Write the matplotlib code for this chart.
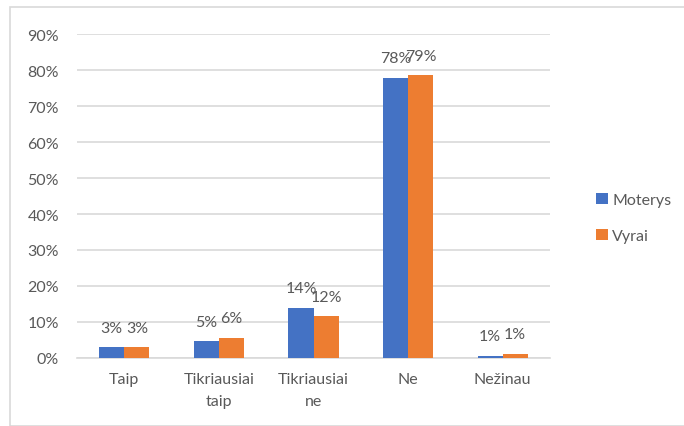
import matplotlib
matplotlib.use("Agg")
import matplotlib.pyplot as plt
from matplotlib.patches import Rectangle
import numpy as np

categories = ["Taip", "Tikriausiai\ntaip", "Tikriausiai\nne", "Ne", "Nežinau"]
moterys = [3.0, 4.7, 13.9, 77.8, 0.6]
vyrai = [3.0, 5.6, 11.6, 78.6, 1.2]
moterys_labels = ["3%", "5%", "14%", "78%", "1%"]
vyrai_labels = ["3%", "6%", "12%", "79%", "1%"]
series_names = ["Moterys", "Vyrai"]
yticks = [0, 10, 20, 30, 40, 50, 60, 70, 80, 90]

blue = "#4472C4"
orange = "#ED7D31"
txt = "#595959"
grid = "#D9D9D9"
fs = 11.5

plt.rcParams['font.family'] = ['Lato', 'DejaVu Sans']

fig = plt.figure(figsize=(6.84, 4.27), dpi=100)
fig.patches.append(Rectangle((10/684, 0), 1.0, 1 - 8/427, transform=fig.transFigure,
                             fill=False, edgecolor="#D9D9D9", linewidth=1.2))
ax = fig.add_axes([77/684, 1 - 359/427, (550-77)/684, (359-35)/427])

x = np.arange(len(categories))
w = 0.265
b1 = ax.bar(x - w/2, moterys, w, color=blue, label=series_names[0], zorder=3)
b2 = ax.bar(x + w/2, vyrai, w, color=orange, label=series_names[1], zorder=3)

for rect, lab in zip(b1, moterys_labels):
    ax.annotate(lab, (rect.get_x() + rect.get_width()/2, rect.get_height()),
                xytext=(0, 9), textcoords="offset points", ha="center", va="bottom",
                fontsize=fs, color=txt)
for rect, lab in zip(b2, vyrai_labels):
    ax.annotate(lab, (rect.get_x() + rect.get_width()/2, rect.get_height()),
                xytext=(0, 9), textcoords="offset points", ha="center", va="bottom",
                fontsize=fs, color=txt)

ax.set_ylim(0, 90)
ax.set_xlim(-0.5, 4.5)
ax.set_yticks(yticks)
ax.set_yticklabels([f"{v}%" for v in yticks], fontsize=fs, color=txt)
ax.set_xticks(x)
ax.set_xticklabels(categories, fontsize=fs, color=txt, linespacing=1.75)
ax.tick_params(axis="both", length=0)
ax.tick_params(axis="x", pad=10)
ax.tick_params(axis="y", pad=13)
ax.yaxis.grid(True, color=grid, linewidth=1.2, zorder=0)
ax.set_axisbelow(True)
for s in ["top", "right", "left"]:
    ax.spines[s].set_visible(False)
ax.spines["bottom"].set_color(grid)
ax.spines["bottom"].set_linewidth(1.2)

fig.legend(handles=[b1, b2], labels=series_names, loc="center left",
           bbox_to_anchor=(582/684, 1 - 219/427), frameon=False, fontsize=fs,
           labelcolor=txt, handlelength=0.7, handleheight=0.7, handletextpad=0.3,
           labelspacing=1.4)

fig.savefig("out.png", dpi=100)
